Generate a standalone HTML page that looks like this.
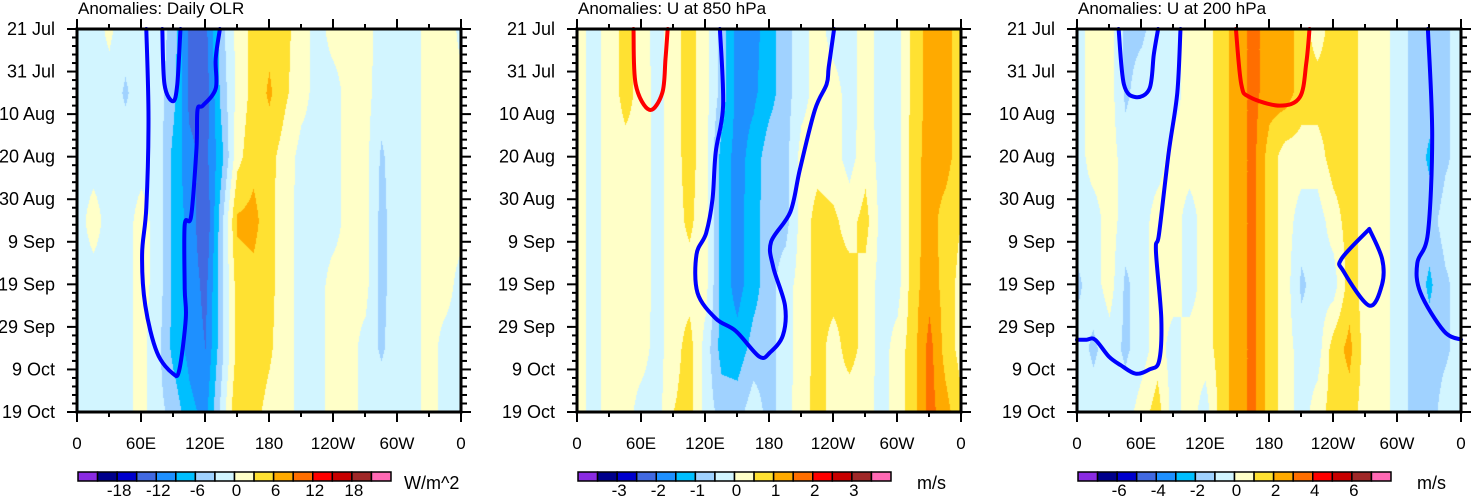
<!DOCTYPE html>
<html><head><meta charset="utf-8">
<style>
html,body{margin:0;padding:0;background:#fff;}
#wrap{position:relative;width:1473px;height:497px;overflow:hidden;font-family:"Liberation Sans",Arial,sans-serif;}
canvas{position:absolute;}
svg{position:absolute;left:0;top:0;}
</style></head>
<body>
<div id="wrap">
<canvas id="c0" width="384" height="383" style="left:77px;top:29px"></canvas>
<canvas id="c1" width="384" height="383" style="left:577px;top:29px"></canvas>
<canvas id="c2" width="384" height="383" style="left:1077px;top:29px"></canvas>
<svg id="ov" width="1473" height="497"></svg>
</div>
<script>
// ---- data ----
const lonNodes = [0,15,30,45,60,75,90,105,120,135,150,165,180,195,210,225,240,255,270,285,300,315,330,345,360];
const dayNodes = [0,15,30,45,60,75,90];
const dateLabels = ["21 Jul","31 Jul","10 Aug","20 Aug","30 Aug","9 Sep","19 Sep","29 Sep","9 Oct","19 Oct"];
const lonLabels = ["0","60E","120E","180","120W","60W","0"];
const olrValues = [
 [-1,-1,0.5,-1.5,-1,-1.5,-4,-13,-13,-4,1,4,5,4,1,-1,1,1,1,-1,-1,-1,1,2,-1],
 [-1,-1,-1,-3.5,-1,-1.5,-5,-13,-14,-5,1,4,6.5,3.5,1,-1,-1,1,1,-1.5,-1,-1,1,1,1],
 [-1,-1,-1,-1,-1,-1,-7,-11,-13,-7,2,5,4,1.5,-1,-1,-1,1,1,-3.5,-1,-1,1,1,1],
 [-1,1,-1,-1,1,-1,-7,-10,-15,-4,6.5,7,4,1,-1,-1,-1,1,1,-4,-1,-1,1,1,1],
 [-1,-1,-1,-1,1,-1,-7,-10,-13,-4,4.5,5,4,1,-1,-1,1,1,1,-4,-1,-1,1,1,-1],
 [-1,-1,-1,-1,1,-2,-7,-10,-12,-4,4,5,3.5,1,-1,-1,1,1,-1,-3.5,-1,-1,1,-1,-1],
 [-1,-1,-2,-1,1,-2,-4,-8,-10,-2,6,4,2,1,-1,-1,1,1,-1,-1,-1,-1,1,-1,-1]
];
const u850Values = [
 [0.2,-0.2,0.2,0.7,0.2,-0.2,0.3,0.7,0.2,-0.7,-1.7,-1.7,-1.2,-0.7,-0.2,0.2,-0.2,-0.2,0.2,-0.2,-0.2,0.7,1.2,1.2,0.7],
 [0.2,-0.2,0.2,0.7,0.3,-0.2,0.3,0.7,0.2,-0.7,-1.7,-1.6,-1.2,-0.7,-0.2,0.2,0.2,-0.2,0.2,-0.2,-0.2,0.7,1.2,1.2,0.7],
 [0.2,-0.2,0.2,0.3,0.3,-0.2,0.3,0.7,0.2,-1.2,-1.7,-1.3,-0.7,-0.7,0.2,0.3,0.2,-0.2,0.3,-0.2,-0.2,0.8,1.2,1.2,0.7],
 [0.2,-0.2,0.2,0.3,0.3,-0.2,0.3,0.6,0.2,-1.2,-1.7,-1.2,-0.7,-0.7,0.2,0.7,0.6,0.3,0.7,-0.2,-0.2,0.8,1.2,0.8,0.5],
 [0.2,-0.2,0.2,0.3,0.3,-0.2,0.3,0.3,0.2,-1.2,-1.7,-1.2,-0.7,-0.2,0.2,0.7,0.7,0.7,0.3,-0.2,-0.2,0.8,1.3,0.8,0.3],
 [0.2,-0.2,0.2,0.2,0.2,-0.2,0.3,0.7,-0.2,-1.2,-1.3,-0.8,-0.7,-0.2,0.2,0.7,0.3,0.7,0.3,-0.2,0.2,0.8,1.7,0.8,0.3],
 [0.2,-0.2,0.2,0.2,-0.2,-0.2,0.5,0.7,-0.2,-0.7,-0.7,-0.2,-0.7,-0.2,0.3,0.7,0.3,0.2,0.2,-0.2,0.2,0.8,1.7,1.2,0.6]
];
const u200Values = [
 [-0.5,0.5,0.5,-1.3,-1.2,-0.5,-0.5,0.5,0.5,1.5,2.5,3.3,2.5,2.5,1.5,0.5,1.5,1.5,0.5,0.5,-0.5,-1.3,-1.5,-1.2,-0.5],
 [-0.5,0.5,0.5,-1.2,-0.5,-0.5,-0.5,0.5,0.5,1.5,2.5,3.3,2.5,2.5,1.5,1.5,1.5,1.5,0.5,0.5,-0.5,-1.3,-1.5,-1.2,-0.5],
 [-0.5,0.5,0.5,-0.5,-0.5,-0.5,0.5,0.5,0.5,1.5,2.5,3.3,1.5,0.5,0.5,0.5,1.5,1.5,0.5,0.5,-0.5,-1.3,-2.2,-1.2,-0.5],
 [-0.5,-0.5,0.5,-0.5,-0.5,0.5,0.5,-0.5,0.5,1.5,2.5,3.3,1.5,0.5,-0.5,-0.5,0.5,1.5,0.5,0.5,-0.5,-1.3,-1.5,-0.5,-0.5],
 [-1.2,-0.5,0.5,-1.2,-0.5,0.5,0.5,-0.5,0.5,1.5,2.5,3.3,1.5,0.5,-1.2,-0.5,-0.5,1.5,0.5,0.5,-0.5,-1.3,-2.2,-1.2,-0.5],
 [-0.5,-1.2,-0.5,-1.2,-0.5,0.5,-0.5,0.5,0.5,1.5,2.5,3.3,1.5,0.5,-0.5,-0.5,1.5,2.3,0.5,0.5,-0.5,-1.3,-1.5,-1.2,-0.5],
 [-0.5,-0.5,-0.5,-0.5,0.5,1.5,-0.5,0.5,-0.5,1.5,2.5,3.3,1.5,0.5,-0.5,0.5,1.5,1.5,0.5,0.5,-0.5,-1.3,-1.5,-0.5,-0.5]
];
// contour lines: [lon, day] pairs
const olrContourOuter = [[65,0],[67,21],[65,42],[61,53],[64,65],[75,76],[90,81],[96,80],[102,68],[101,61],[101,46],[107,44],[112,28],[113,19],[118,18],[130,14],[130,7],[134,0]];
const olrContourInner = [[80,0],[82,13],[90,17],[94,13],[97,0]];
const u850ContourRed = [[53,0],[55,13],[68,19],[80,15],[83,7],[85,0]];
const u850ContourBlue = [[134,0],[137,18],[130,29],[127,40],[121,48],[112,53],[113,62],[130,68],[149,71],[171,77],[181,76],[193,72],[195,65],[184,56],[182,50],[200,43],[209,33],[223,19],[234,13],[236,9],[241,0]];
const u200ContourRed = [[149,0],[154,13],[162,16],[190,18],[209,16],[215,8],[218,0]];
const u200ContourBlue1 = [[39,0],[44,13],[55,16],[68,14],[72,6],[76,0]];
const u200ContourBlue2 = [[97,0],[94,15],[86,29],[77,48],[74,52],[79,68],[77,78],[68,80],[55,81],[41,79],[30,77],[17,73],[9,73],[0,73]];
const u200ContourBlue3 = [[274,47],[248,54],[250,57],[274,65],[286,60],[286,54],[274,47]];
const u200ContourBlue4 = [[329,0],[333,25],[329,48],[319,55],[322,62],[344,71],[360,73]];
const cbColors = ['#8a2be2','#00008b','#0000cd','#4169e1','#1e90ff','#00bfff','#a0d2ff','#d2f5ff','#ffffc8','#ffe132','#ffaa00','#ff6e00','#ff0000','#c80000','#a02828','#ff69b4'];
const olrCbLabels = ["-18","-12","-6","0","6","12","18"];
const u850CbLabels = ["-3","-2","-1","0","1","2","3"];
const u200CbLabels = ["-6","-4","-2","0","2","4","6"];

// ---- rendering ----
const NS="http://www.w3.org/2000/svg";
const ov=document.getElementById('ov');
const W=384,H=383,TOP=29;
function hex(c){return [parseInt(c.slice(1,3),16),parseInt(c.slice(3,5),16),parseInt(c.slice(5,7),16)];}
const rgb=cbColors.map(hex);
function sample(vals,lon,day){
  let i=Math.min(lonNodes.length-2,Math.max(0,Math.floor(lon/15)));
  let j=Math.min(dayNodes.length-2,Math.max(0,Math.floor(day/15)));
  let fx=(lon-lonNodes[i])/15, fy=(day-dayNodes[j])/15;
  const a=vals[j][i],b=vals[j][i+1],c=vals[j+1][i],d=vals[j+1][i+1];
  return (a*(1-fx)+b*fx)*(1-fy)+(c*(1-fx)+d*fx)*fy;
}
function drawHeat(id,vals,step){
  const cv=document.getElementById(id),ctx=cv.getContext('2d');
  const img=ctx.createImageData(W,H);
  for(let y=0;y<H;y++){for(let x=0;x<W;x++){
    const lon=x/W*360, day=y/H*90;
    let v=sample(vals,lon,day);
    let k=Math.floor(v/step)+8; k=Math.max(0,Math.min(15,k));
    const p=(y*W+x)*4; img.data[p]=rgb[k][0];img.data[p+1]=rgb[k][1];img.data[p+2]=rgb[k][2];img.data[p+3]=255;
  }}
  ctx.putImageData(img,0,0);
}
function el(tag,attrs,parent){const e=document.createElementNS(NS,tag);for(const k in attrs)e.setAttribute(k,attrs[k]);(parent||ov).appendChild(e);return e;}
function xScale(L,lon){return L+lon/360*W;}
function yScale(day){return TOP+day/90*H;}
function drawContour(L,pts,color,name){
  const P=pts.map(p=>[xScale(L,p[0]),yScale(p[1])]);
  let d='M'+P[0][0].toFixed(1)+' '+P[0][1].toFixed(1);
  for(let i=0;i<P.length-1;i++){
    const p0=P[Math.max(0,i-1)],p1=P[i],p2=P[i+1],p3=P[Math.min(P.length-1,i+2)];
    const c1=[p1[0]+(p2[0]-p0[0])/6,p1[1]+(p2[1]-p0[1])/6];
    const c2=[p2[0]-(p3[0]-p1[0])/6,p2[1]-(p3[1]-p1[1])/6];
    d+=' C'+c1.map(v=>v.toFixed(1)).join(' ')+' '+c2.map(v=>v.toFixed(1)).join(' ')+' '+p2.map(v=>v.toFixed(1)).join(' ');
  }
  const p=el('path',{d:d,fill:'none',stroke:color,'stroke-width':4,'stroke-linejoin':'round','stroke-linecap':'round'});
  
  
}
function drawAxes(L,title,cbLabels,unit,pi){
  const g=el('g',{});
  
  
  const t=el('text',{x:L+1,y:14,'font-size':17,fill:'#000'},g); t.textContent=title;
  
  
  for(let d=0;d<=90;d+=2){
    const y=yScale(d), major=(d%10===0);
    const len=major?10:5;
    el('line',{x1:L-len,y1:y,x2:L,y2:y,stroke:'#000','stroke-width':2},g);
    el('line',{x1:L+W,y1:y,x2:L+W+(major?10:6),y2:y,stroke:'#000','stroke-width':2},g);
  }
  dateLabels.forEach((s,i)=>{const tx=el('text',{x:L-22,y:yScale(i*10)+6,'font-size':18,'text-anchor':'end'},g);tx.textContent=s;
    
    });
  for(let lon=0;lon<=360;lon+=30){
    const x=xScale(L,lon),major=(lon%60===0),len=major?10:5;
    el('line',{x1:x,y1:TOP-len,x2:x,y2:TOP,stroke:'#000','stroke-width':2},g);
    el('line',{x1:x,y1:TOP+H,x2:x,y2:TOP+H+len,stroke:'#000','stroke-width':2},g);
  }
  lonLabels.forEach((s,i)=>{const tx=el('text',{x:xScale(L,i*60),y:449,'font-size':17,'text-anchor':'middle'},g);tx.textContent=s;
    
    });
  const fr=el('rect',{x:L,y:TOP,width:W,height:H,fill:'none',stroke:'#000','stroke-width':3},g);
  
  
  const cbx=L+1,cbw=313/16;
  cbColors.forEach((c,i)=>{const r=el('rect',{x:cbx+i*cbw,y:472,width:cbw,height:9,fill:c,stroke:'#000','stroke-width':1.5},g);
    
    });
  cbLabels.forEach((s,i)=>{const tx=el('text',{x:cbx+(2+2*i)*cbw+2,y:496,'font-size':17,'text-anchor':'middle'},g);tx.textContent=s;
    
    });
  const u=el('text',{x:L+(unit==='W/m^2'?327:340),y:489,'font-size':18},g);u.textContent=unit;
  
  
}
drawHeat('c0',olrValues,3);
drawHeat('c1',u850Values,0.5);
drawHeat('c2',u200Values,1);
drawContour(77,olrContourOuter,'#0000ff','olr-contour-outer');
drawContour(77,olrContourInner,'#0000ff','olr-contour-inner');
drawContour(577,u850ContourRed,'#ff0000','u850-contour-red');
drawContour(577,u850ContourBlue,'#0000ff','u850-contour-blue');
drawContour(1077,u200ContourRed,'#ff0000','u200-contour-red');
drawContour(1077,u200ContourBlue1,'#0000ff','u200-contour-blue-1');
drawContour(1077,u200ContourBlue2,'#0000ff','u200-contour-blue-2');
drawContour(1077,u200ContourBlue3,'#0000ff','u200-contour-blue-3');
drawContour(1077,u200ContourBlue4,'#0000ff','u200-contour-blue-4');
drawAxes(77,'Anomalies: Daily OLR',olrCbLabels,'W/m^2',1);
drawAxes(577,'Anomalies: U at 850 hPa',u850CbLabels,'m/s',2);
drawAxes(1077,'Anomalies: U at 200 hPa',u200CbLabels,'m/s',3);
</script>
</body></html>
